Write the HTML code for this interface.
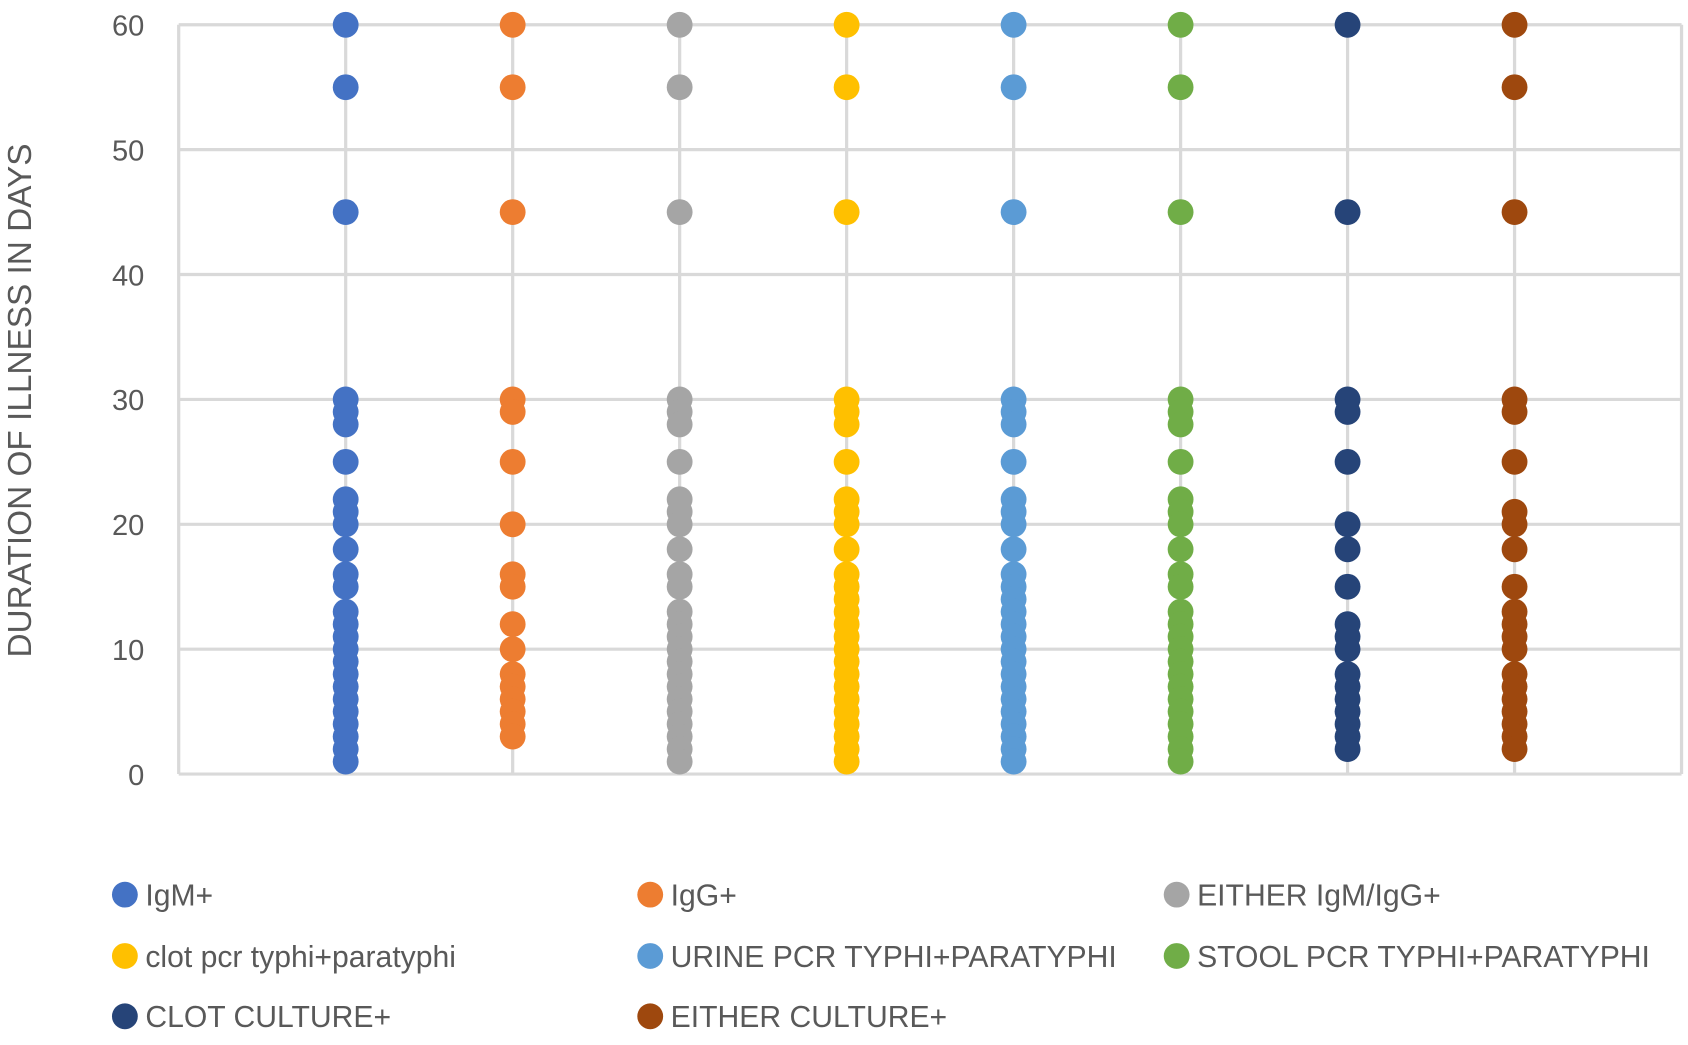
<!DOCTYPE html>
<html><head><meta charset="utf-8"><style>
body{margin:0;background:#fff;}
svg text{font-family:"Liberation Sans",sans-serif;fill:#595959;}
</style></head><body>
<svg id="chart" width="1688" height="1040" viewBox="0 0 1568 966" xmlns="http://www.w3.org/2000/svg">
<g id="grid"></g>
<g id="yticks"></g>
<text x="29" y="372" font-size="31" text-anchor="middle" transform="rotate(-90 29 372)">DURATION OF ILLNESS IN DAYS</text>
<g id="dots"></g>
<g id="legend"></g>
</svg>
<script>
const categories = ["IgM+","IgG+","EITHER IgM/IgG+","clot pcr typhi+paratyphi","URINE PCR TYPHI+PARATYPHI","STOOL PCR TYPHI+PARATYPHI","CLOT CULTURE+","EITHER CULTURE+"];
const colors = ["#4472c4","#ed7d31","#a5a5a5","#ffc000","#5b9bd5","#70ad47","#264478","#9e480e"];
const yTicks = [0,10,20,30,40,50,60];
const sIgM = [60,55,45,30,29,28,25,22,21,20,18,16,15,13,12,11,10,9,8,7,6,5,4,3,2,1];
const sIgG = [60,55,45,30,29,25,20,16,15,12,10,8,7,6,5,4,3];
const sEither = [60,55,45,30,29,28,25,22,21,20,18,16,15,13,12,11,10,9,8,7,6,5,4,3,2,1];
const sClotPcr = [60,55,45,30,29,28,25,22,21,20,18,16,15,14,13,12,11,10,9,8,7,6,5,4,3,2,1];
const sUrine = [60,55,45,30,29,28,25,22,21,20,18,16,15,14,13,12,11,10,9,8,7,6,5,4,3,2,1];
const sStool = [60,55,45,30,29,28,25,22,21,20,18,16,15,13,12,11,10,9,8,7,6,5,4,3,2,1];
const sClotCult = [60,45,30,29,25,20,18,15,12,11,10,8,7,6,5,4,3,2];
const sEitherCult = [60,55,45,30,29,25,21,20,18,15,13,12,11,10,8,7,6,5,4,3,2];
const series = [sIgM,sIgG,sEither,sClotPcr,sUrine,sStool,sClotCult,sEitherCult];

const NS="http://www.w3.org/2000/svg";
const x0=166,x1=1562,y0=719,y1=23;
const xs=v=>x0+(x1-x0)*v/9;
const ys=v=>y0-(y0-y1)*v/60;
function mk(tag,attrs,parent){const e=document.createElementNS(NS,tag);for(const k in attrs)e.setAttribute(k,attrs[k]);parent.appendChild(e);return e;}
const grid=document.getElementById('grid'),yt=document.getElementById('yticks'),dots=document.getElementById('dots'),leg=document.getElementById('legend');
yTicks.forEach(t=>{
  const l=mk('line',{x1:x0,x2:x1,y1:ys(t),y2:ys(t),stroke:'#d9d9d9','stroke-width':3},grid);
  
  
  const tx=mk('text',{x:134,y:ys(t)+10,'font-size':27,'text-anchor':'end'},yt);
  tx.textContent=t;
  
  
});
for(let i=0;i<=9;i++){
  const l=mk('line',{x1:xs(i),x2:xs(i),y1:y1,y2:y0,stroke:'#d9d9d9','stroke-width':3},grid);
  
  
}
series.forEach((s,i)=>{
  s.forEach(v=>{
    const c=mk('circle',{cx:xs(i+1),cy:ys(v),r:12,fill:colors[i]},dots);
    
    
  });
});
const lx=[116,604,1093],ly=[831,888,944];
categories.forEach((c,i)=>{
  const x=lx[i%3],y=ly[Math.floor(i/3)];
  const m=mk('circle',{cx:x,cy:y,r:12,fill:colors[i]},leg);
  
  
  const t=mk('text',{x:x+19,y:y+10,'font-size':28},leg);
  t.textContent=c;
  
  
});
</script>
</body></html>
